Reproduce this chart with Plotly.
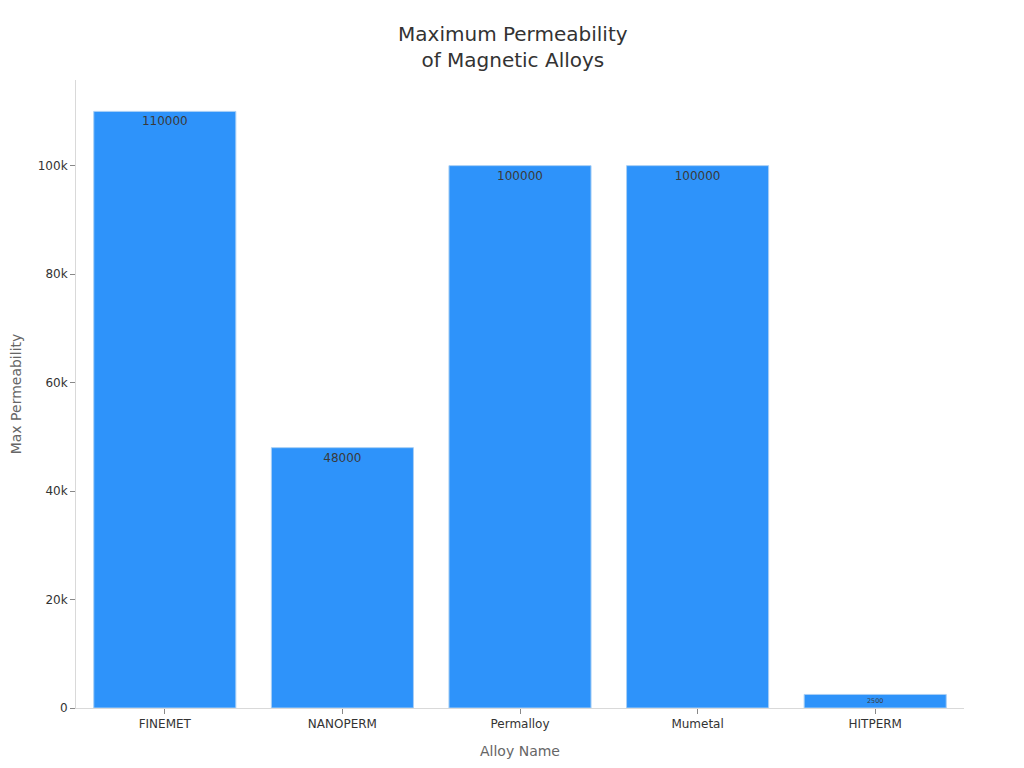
import plotly.graph_objects as go

alloys = ["FINEMET", "NANOPERM", "Permalloy", "Mumetal", "HITPERM"]
max_permeability = [110000, 48000, 100000, 100000, 2500]

fig = go.Figure(go.Bar(
    x=alloys,
    y=max_permeability,
    text=[str(v) for v in max_permeability],
    textposition="inside",
    insidetextanchor="end",
    textfont=dict(color="#3a3a3a", size=12),
    marker=dict(color="#2E93FA", line=dict(color="#A8CFF5", width=1)),
))

fig.update_layout(
    width=1024, height=768,
    font=dict(family="DejaVu Sans", color="#333333", size=12),
    title=dict(text="Maximum Permeability<br>of Magnetic Alloys", x=0.493, xanchor="center",
               y=0.957, yanchor="top", font=dict(size=20, color="#333333")),
    paper_bgcolor="white", plot_bgcolor="white",
    margin=dict(l=68, r=68, t=72, b=68),
    bargap=0.2,
    showlegend=False,
    uniformtext=dict(mode=False),
    xaxis=dict(title=dict(text="Alloy Name", font=dict(size=14, color="#666666"), standoff=15),
               showline=True, linecolor="#D9D9D9", ticks="outside", tickcolor="#888888",
               ticklen=5, showgrid=False, tickfont=dict(size=12, color="#333333")),
    yaxis=dict(title=dict(text="Max Permeability", font=dict(size=14, color="#666666"), standoff=18),
               automargin=False,
               showline=True, linecolor="#D9D9D9", ticks="outside", tickcolor="#888888",
               ticklen=5, showgrid=False, zeroline=False, tickformat="~s",
               dtick=20000, tickfont=dict(size=12, color="#333333")),
)

fig.write_html("out.html")
